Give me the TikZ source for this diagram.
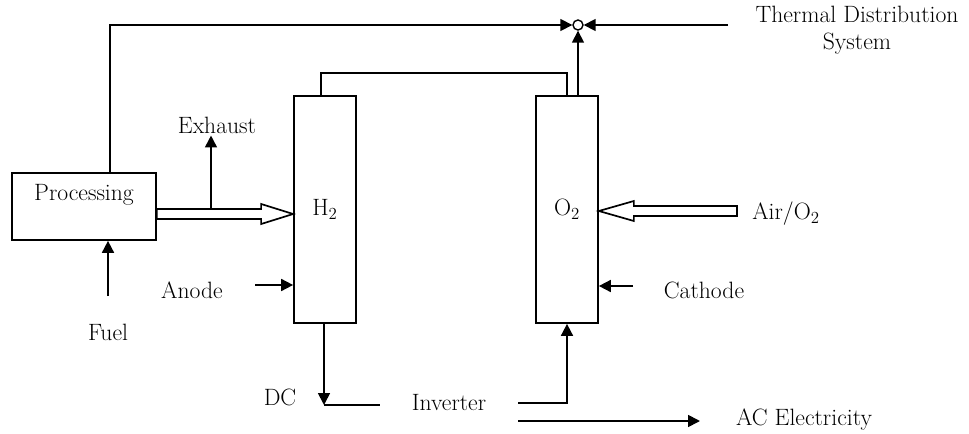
\documentclass[tikz,border=0pt]{standalone}
\usetikzlibrary{arrows.meta,positioning,calc}

\begin{document}
\begin{tikzpicture}[
    x=0.025cm, y=-0.025cm,
    line width=1.2pt,
    txt/.style={
        font=\fontsize{16.8}{19}\selectfont,
        inner sep=1pt
    },
    box/.style={
        rectangle,
        draw,
        fill=white,
        inner sep=0pt
    },
    cell/.style={
        box,
        minimum width=1.55cm,
        minimum height=5.675cm,
        font=\fontsize{16.8}{19}\selectfont
    },
    arr/.style={
        -{Triangle[length=8.5pt,width=8.5pt]}
    },
    hollow/.style={
        draw,
        fill=white,
        line join=miter
    }
]
\useasboundingbox (0,0) rectangle (969,434);

% Fuel processor
\node[box, minimum width=3.6cm, minimum height=1.675cm] (proc) at (84,206.5) {};
\node[txt] (proclbl) at (84,195) {Processing};

% Anode and cathode
\node[cell] (h2) at (325,209.5) {H$_2$};
\node[cell] (o2) at (567,209.5) {O$_2$};

% Heat junction
\node[circle, draw, fill=white, minimum size=0.25cm, inner sep=0pt, line width=1pt] (junc) at (578,25) {};

% Labels
\node[txt, align=center] (tds) at (857,30) {Thermal Distribution\\System};
\node[txt] (exhaust) at (217,125) {Exhaust};
\node[txt] (fuel) at (108,332) {Fuel};
\node[txt] (anode) at (192,290) {Anode};
\node[txt] (cathode) at (704,290) {Cathode};
\node[txt] (air) at (786,214) {Air/O$_2$};
\node[txt] (dc) at (280,397) {DC};
\node[txt] (inv) at (449,403) {Inverter};
\node[txt] (ac) at (804,420) {AC Electricity};

% Free ends
\coordinate (heatsrc) at (728,25);
\coordinate (exhsrc) at (211,209);
\coordinate (fuelsrc) at (108,296);
\coordinate (anodesrc) at (255,285);
\coordinate (cathsrc) at (633,286);
\coordinate (airsrc) at (737,211);
\coordinate (dcend) at (324,405);
\coordinate (acend) at (700,421);

% Reformate to anode
\coordinate (h2in) at (h2.west |- 0,214);
\draw[hollow] (proc.east |- 0,209) -- ($(h2in)+(-32,-5)$) -- ($(h2in)+(-32,-10)$)
    -- (h2in) -- ($(h2in)+(-32,10)$) -- ($(h2in)+(-32,5)$) -- (proc.east |- 0,219) -- cycle;

% Air to cathode
\coordinate (o2in) at (o2.east |- airsrc);
\draw[hollow] ($(airsrc)+(0,-5)$) -- ($(o2in)+(35,-5)$) -- ($(o2in)+(35,-10)$)
    -- (o2in) -- ($(o2in)+(35,10)$) -- ($(o2in)+(35,5)$) -- ($(airsrc)+(0,5)$) -- cycle;

% Heat lines
\draw[arr] (110,0 |- proc.north) |- (junc.west);
\draw[arr] (heatsrc) -- (junc.east);
\draw[arr] (junc |- o2.north) -- (junc.south);
\draw (321,0 |- h2.north) -- ++(0,-22) -| (567,0 |- o2.north);

% Inputs and exhaust
\draw[arr] (fuelsrc) -- (fuelsrc |- proc.south);
\draw[arr] (exhsrc) -- (exhsrc |- exhaust.south);
\draw[arr] (anodesrc) -- (anodesrc -| h2.west);
\draw[arr] (cathsrc) -- (cathsrc -| o2.east);

% Electrical
\draw[arr] (dcend |- h2.south) -- (dcend);
\draw (dcend) -- ($(dcend -| inv.west)+(-30,0)$);
\draw[arr] ($(inv.east)+(30,0)$) -| (o2.south);
\draw[arr] ($(inv.east)+(30,18)$) -- (acend);

\end{tikzpicture}
\end{document}
